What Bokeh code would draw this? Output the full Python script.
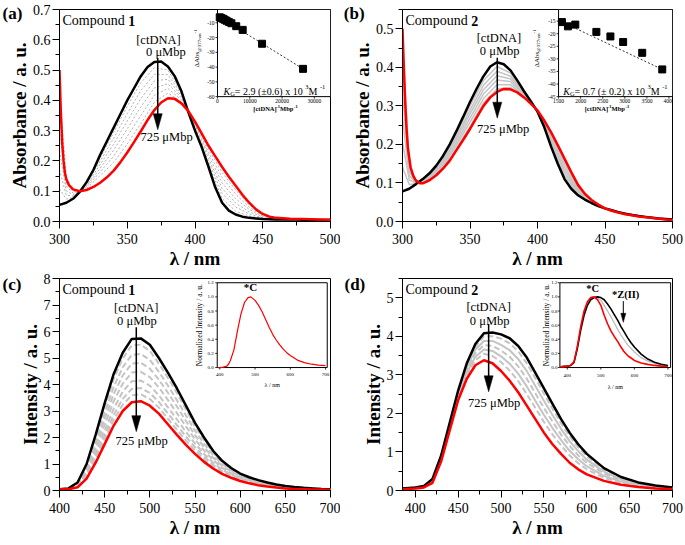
import math
from bokeh.plotting import figure
from bokeh.models import Range1d, FixedTicker, NumeralTickFormatter, Label
from bokeh.layouts import column, row
from bokeh.embed import file_html
from bokeh.resources import INLINE
from bokeh.core.properties import value

SERIF = "Liberation Serif"
RED = "#ff0000"

# ---------------- (a) Compound 1 : absorption ----------------
a_black_wl = [300, 305, 310, 315, 320, 325, 330, 335, 340, 345, 350, 355, 360, 365, 370, 375, 380, 385, 390, 395,
              400, 405, 410, 415, 420, 425, 430, 435, 440, 445, 450, 455, 460, 465, 470, 475, 480, 485, 490, 495, 500]
a_black = [0.055, 0.062, 0.075, 0.098, 0.130, 0.170, 0.220, 0.265, 0.310, 0.355, 0.400, 0.440, 0.480, 0.510, 0.527,
           0.528, 0.512, 0.480, 0.430, 0.362, 0.300, 0.245, 0.180, 0.112, 0.062, 0.036, 0.023, 0.016, 0.012, 0.010,
           0.008, 0.0075, 0.007, 0.0068, 0.0065, 0.0063, 0.006, 0.0058, 0.0055, 0.0053, 0.005]
a_red_wl = [300, 301, 302, 303, 304, 305, 307, 310, 315, 320, 325, 330, 335, 340, 345, 350, 355, 360, 365, 370, 375,
            380, 385, 390, 395, 400, 405, 410, 415, 420, 425, 430, 435, 440, 445, 450, 455, 460, 470, 480, 490, 500]
a_red = [0.50, 0.36, 0.26, 0.20, 0.16, 0.14, 0.12, 0.106, 0.100, 0.104, 0.114, 0.128, 0.146, 0.168, 0.196, 0.228, 0.262,
         0.298, 0.335, 0.368, 0.393, 0.407, 0.405, 0.39, 0.365, 0.33, 0.29, 0.25, 0.215, 0.18, 0.148, 0.118, 0.088,
         0.062, 0.04, 0.025, 0.016, 0.012, 0.009, 0.008, 0.007, 0.006]
a_gray_wl = [300, 305, 310, 315, 320, 330, 340, 350, 360, 370, 380, 390, 400, 410, 420, 430, 440, 450, 460, 480, 500]
a_gray_1 = [0.108, 0.074, 0.079, 0.098, 0.127, 0.210, 0.294, 0.380, 0.458, 0.508, 0.500, 0.425, 0.304, 0.188, 0.076, 0.034, 0.018, 0.010, 0.008, 0.006, 0.005]
a_gray_2 = [0.171, 0.087, 0.084, 0.099, 0.124, 0.199, 0.275, 0.356, 0.432, 0.486, 0.485, 0.420, 0.308, 0.198, 0.093, 0.048, 0.025, 0.012, 0.008, 0.0065, 0.005]
a_gray_3 = [0.233, 0.101, 0.089, 0.099, 0.120, 0.188, 0.256, 0.332, 0.406, 0.464, 0.470, 0.414, 0.312, 0.208, 0.109, 0.061, 0.032, 0.015, 0.009, 0.007, 0.0054]
a_gray_4 = [0.300, 0.116, 0.094, 0.099, 0.116, 0.176, 0.236, 0.306, 0.378, 0.441, 0.455, 0.408, 0.317, 0.219, 0.127, 0.075, 0.040, 0.017, 0.010, 0.007, 0.0055]
a_gray_5 = [0.367, 0.131, 0.100, 0.099, 0.113, 0.164, 0.216, 0.281, 0.350, 0.417, 0.439, 0.402, 0.321, 0.229, 0.145, 0.090, 0.047, 0.020, 0.011, 0.0074, 0.0057]
a_gray_6 = [0.433, 0.145, 0.105, 0.100, 0.109, 0.152, 0.195, 0.256, 0.323, 0.394, 0.424, 0.396, 0.326, 0.240, 0.162, 0.104, 0.055, 0.023, 0.011, 0.0077, 0.0059]
a_grays = [a_gray_1, a_gray_2, a_gray_3, a_gray_4, a_gray_5, a_gray_6]
a_xticks = [300, 350, 400, 450, 500]
a_xminor = [325, 375, 425, 475]
a_yticks = [0.0, 0.1, 0.2, 0.3, 0.4, 0.5, 0.6, 0.7]
a_yminor = [0.05, 0.15, 0.25, 0.35, 0.45, 0.55, 0.65]

# inset (a): 1/ΔAbs vs 1/[ctDNA]
ia_x = [700, 1200, 1700, 2200, 2800, 3500, 4300, 5800, 7800, 13800, 26500]
ia_y = [-6.3, -6.8, -7.3, -7.9, -8.6, -9.4, -10.3, -12.3, -14.8, -24.2, -41.2]
ia_fit_x = [500, 26500]
ia_fit_y = [-6.0, -41.2]
ia_xticks = [0, 10000, 20000, 30000]
ia_yticks = [-60, -50, -40, -30, -20, -10]

# ---------------- (b) Compound 2 : absorption ----------------
b_black_wl = [300, 305, 310, 315, 320, 325, 330, 335, 340, 345, 350, 355, 360, 365, 370, 375, 380, 385, 390, 395,
              400, 405, 410, 415, 420, 425, 430, 435, 440, 445, 450, 455, 460, 465, 470, 475, 480, 485, 490, 495, 500]
b_black = [0.078, 0.085, 0.097, 0.11, 0.125, 0.145, 0.17, 0.2, 0.235, 0.272, 0.31, 0.345, 0.377, 0.402, 0.413, 0.408,
           0.392, 0.366, 0.338, 0.312, 0.285, 0.245, 0.195, 0.15, 0.11, 0.085, 0.068, 0.057, 0.048, 0.04, 0.034,
           0.029, 0.024, 0.02, 0.017, 0.014, 0.012, 0.01, 0.008, 0.0065, 0.005]
b_red_wl = [300, 301, 302, 303, 304, 306, 308, 310, 313, 315, 320, 325, 330, 335, 340, 345, 350, 355, 360, 365, 370,
            375, 380, 385, 390, 395, 400, 405, 410, 415, 420, 425, 430, 435, 440, 445, 450, 455, 460, 465, 470, 475,
            480, 485, 490, 495, 500]
b_red = [0.50, 0.40, 0.31, 0.24, 0.19, 0.14, 0.118, 0.106, 0.099, 0.099, 0.107, 0.12, 0.137, 0.158, 0.185, 0.212,
         0.24, 0.27, 0.30, 0.322, 0.336, 0.344, 0.343, 0.335, 0.322, 0.306, 0.288, 0.262, 0.232, 0.198, 0.163, 0.128,
         0.095, 0.072, 0.056, 0.044, 0.034, 0.028, 0.023, 0.019, 0.016, 0.013, 0.011, 0.009, 0.007, 0.0055, 0.004]
b_gray_wl = [300, 305, 310, 315, 320, 330, 340, 350, 360, 370, 380, 390, 400, 410, 420, 430, 440, 450, 460, 480, 500]
b_gray_1 = [0.141, 0.096, 0.098, 0.108, 0.122, 0.165, 0.228, 0.300, 0.366, 0.402, 0.385, 0.333, 0.285, 0.201, 0.118, 0.072, 0.049, 0.034, 0.024, 0.012, 0.005]
b_gray_2 = [0.205, 0.108, 0.100, 0.107, 0.120, 0.160, 0.220, 0.289, 0.354, 0.390, 0.377, 0.331, 0.286, 0.206, 0.126, 0.076, 0.050, 0.034, 0.024, 0.012, 0.005]
b_gray_3 = [0.268, 0.119, 0.101, 0.105, 0.117, 0.155, 0.213, 0.279, 0.342, 0.378, 0.370, 0.329, 0.286, 0.212, 0.134, 0.080, 0.052, 0.034, 0.024, 0.012, 0.005]
b_gray_4 = [0.331, 0.130, 0.102, 0.103, 0.114, 0.150, 0.205, 0.268, 0.331, 0.367, 0.363, 0.327, 0.287, 0.217, 0.142, 0.084, 0.053, 0.034, 0.023, 0.011, 0.0045]
b_gray_5 = [0.395, 0.141, 0.104, 0.102, 0.112, 0.145, 0.198, 0.258, 0.319, 0.355, 0.355, 0.325, 0.287, 0.223, 0.150, 0.088, 0.054, 0.034, 0.023, 0.011, 0.0043]
b_gray_6 = [0.458, 0.153, 0.105, 0.100, 0.109, 0.140, 0.190, 0.247, 0.308, 0.344, 0.348, 0.323, 0.288, 0.228, 0.158, 0.092, 0.055, 0.034, 0.023, 0.011, 0.0041]
b_grays = [b_gray_1, b_gray_2, b_gray_3, b_gray_4, b_gray_5, b_gray_6]
b_yticks = [0.0, 0.1, 0.2, 0.3, 0.4, 0.5]
b_yminor = [0.05, 0.15, 0.25, 0.35, 0.45, 0.55]

ib_x = [1576, 1712, 1879, 2356, 2674, 2962, 3394, 3848]
ib_y = [-15.4, -17.1, -16.4, -19.3, -21.1, -23.3, -27.6, -34.2]
ib_fit_x = [1560, 3850]
ib_fit_y = [-15.2, -34.2]
ib_xticks = [1500, 2000, 2500, 3000, 3500, 4000]
ib_yticks = [-45, -40, -35, -30, -25, -20, -15]

# ---------------- (c) Compound 1 : emission ----------------
c_wl = [400, 410, 420, 430, 440, 450, 460, 470, 480, 490, 500, 510, 520, 530, 540, 550, 560, 570, 580, 590, 600,
        610, 620, 630, 640, 650, 660, 670, 680, 690, 700]
c_black = [0.05, 0.08, 0.3, 1.0, 2.1, 3.3, 4.4, 5.2, 5.72, 5.74, 5.5, 5.0, 4.45, 3.85, 3.2, 2.55, 2.0, 1.5, 1.12,
           0.85, 0.64, 0.5, 0.39, 0.3, 0.23, 0.17, 0.13, 0.1, 0.08, 0.06, 0.05]
c_red = [0.05, 0.05, 0.12, 0.45, 1.05, 1.75, 2.45, 3.0, 3.33, 3.37, 3.2, 2.9, 2.5, 2.1, 1.72, 1.38, 1.08, 0.83, 0.63,
         0.48, 0.36, 0.27, 0.2, 0.15, 0.11, 0.08, 0.06, 0.05, 0.04, 0.035, 0.03]
c_gray_wl = [400, 410, 420, 430, 440, 450, 460, 470, 480, 490, 500, 510, 520, 530, 540, 550, 560, 570, 580, 590, 600,
             620, 640, 660, 680, 700]
c_gray_1 = [0.05, 0.08, 0.28, 0.95, 2.0, 3.15, 4.21, 4.98, 5.48, 5.50, 5.27, 4.79, 4.25, 3.68, 3.05, 2.43, 1.91, 1.43, 1.07, 0.81, 0.61, 0.37, 0.22, 0.12, 0.08, 0.05]
c_gray_2 = [0.05, 0.07, 0.26, 0.86, 1.84, 2.91, 3.91, 4.65, 5.12, 5.15, 4.93, 4.48, 3.96, 3.41, 2.83, 2.26, 1.77, 1.33, 1.00, 0.76, 0.57, 0.34, 0.20, 0.11, 0.07, 0.05]
c_gray_3 = [0.05, 0.07, 0.23, 0.79, 1.69, 2.70, 3.64, 4.34, 4.79, 4.82, 4.60, 4.18, 3.69, 3.17, 2.62, 2.09, 1.64, 1.24, 0.93, 0.71, 0.53, 0.32, 0.18, 0.10, 0.06, 0.04]
c_gray_4 = [0.05, 0.06, 0.21, 0.71, 1.54, 2.48, 3.37, 4.03, 4.45, 4.48, 4.28, 3.89, 3.42, 2.92, 2.42, 1.93, 1.51, 1.15, 0.86, 0.65, 0.49, 0.29, 0.17, 0.09, 0.06, 0.04]
c_gray_5 = [0.05, 0.06, 0.18, 0.63, 1.40, 2.26, 3.09, 3.73, 4.12, 4.15, 3.96, 3.59, 3.14, 2.68, 2.21, 1.77, 1.38, 1.05, 0.79, 0.60, 0.45, 0.26, 0.15, 0.08, 0.05, 0.04]
c_gray_6 = [0.05, 0.06, 0.16, 0.57, 1.27, 2.08, 2.86, 3.46, 3.83, 3.87, 3.68, 3.34, 2.91, 2.47, 2.03, 1.63, 1.27, 0.97, 0.73, 0.56, 0.42, 0.24, 0.14, 0.08, 0.05, 0.03]
c_gray_7 = [0.05, 0.05, 0.14, 0.51, 1.17, 1.92, 2.67, 3.24, 3.59, 3.63, 3.45, 3.13, 2.71, 2.29, 1.88, 1.51, 1.18, 0.90, 0.68, 0.52, 0.39, 0.22, 0.12, 0.07, 0.04, 0.03]
c_grays = [c_gray_1, c_gray_2, c_gray_3, c_gray_4, c_gray_5, c_gray_6, c_gray_7]
c_xticks = [400, 450, 500, 550, 600, 650, 700]
c_xminor = [425, 475, 525, 575, 625, 675]
c_yticks = [0, 1, 2, 3, 4, 5, 6, 7, 8]
c_yminor = [0.5, 1.5, 2.5, 3.5, 4.5, 5.5, 6.5, 7.5]

ic_wl = [395, 400, 410, 420, 425, 430, 440, 450, 460, 470, 480, 488, 500, 510, 520, 530, 540, 550, 560, 570, 580,
         590, 600, 620, 640, 660, 680, 700]
ic_red = [0.0, 0.0, 0.005, 0.02, 0.05, 0.1, 0.25, 0.52, 0.76, 0.92, 0.99, 1.0, 0.95, 0.88, 0.79, 0.68, 0.57, 0.47,
          0.39, 0.32, 0.26, 0.21, 0.17, 0.105, 0.07, 0.047, 0.035, 0.027]
ic_xticks = [400, 500, 600, 700]
ic_yticks = [0.0, 0.2, 0.4, 0.6, 0.8, 1.0, 1.2]

# ---------------- (d) Compound 2 : emission ----------------
d_wl = [385, 400, 410, 420, 430, 440, 450, 460, 470, 480, 490, 500, 510, 520, 530, 540, 550, 560, 570, 580, 590, 600,
        620, 640, 660, 680, 700]
d_black = [0.05, 0.08, 0.12, 0.3, 0.9, 1.75, 2.6, 3.3, 3.8, 4.08, 4.1, 4.05, 3.95, 3.75, 3.45, 3.05, 2.65, 2.25, 1.85,
           1.5, 1.2, 0.95, 0.58, 0.35, 0.21, 0.13, 0.08]
d_red = [0.03, 0.05, 0.08, 0.2, 0.75, 1.55, 2.35, 2.9, 3.25, 3.38, 3.3, 3.1, 2.85, 2.55, 2.2, 1.85, 1.5, 1.2, 0.95,
         0.72, 0.55, 0.42, 0.25, 0.15, 0.09, 0.05, 0.03]
d_gray_1 = [0.05, 0.08, 0.12, 0.29, 0.88, 1.73, 2.57, 3.25, 3.73, 4.00, 4.00, 3.94, 3.82, 3.61, 3.30, 2.91, 2.51, 2.12, 1.74, 1.41, 1.12, 0.89, 0.54, 0.33, 0.20, 0.12, 0.07]
d_gray_2 = [0.04, 0.07, 0.11, 0.27, 0.86, 1.69, 2.53, 3.19, 3.65, 3.88, 3.88, 3.78, 3.64, 3.41, 3.10, 2.71, 2.33, 1.96, 1.60, 1.28, 1.02, 0.80, 0.49, 0.29, 0.18, 0.11, 0.07]
d_gray_3 = [0.04, 0.07, 0.10, 0.26, 0.83, 1.66, 2.49, 3.12, 3.56, 3.77, 3.75, 3.63, 3.47, 3.22, 2.90, 2.52, 2.14, 1.79, 1.45, 1.16, 0.91, 0.72, 0.44, 0.26, 0.16, 0.10, 0.06]
d_gray_4 = [0.04, 0.06, 0.10, 0.24, 0.81, 1.63, 2.45, 3.06, 3.47, 3.66, 3.62, 3.48, 3.29, 3.03, 2.70, 2.33, 1.96, 1.62, 1.31, 1.03, 0.81, 0.63, 0.38, 0.23, 0.14, 0.08, 0.05]
d_gray_5 = [0.04, 0.06, 0.09, 0.22, 0.79, 1.60, 2.41, 3.00, 3.38, 3.55, 3.49, 3.33, 3.11, 2.84, 2.50, 2.14, 1.78, 1.45, 1.17, 0.91, 0.71, 0.55, 0.33, 0.20, 0.12, 0.07, 0.04]
d_grays = [d_gray_1, d_gray_2, d_gray_3, d_gray_4, d_gray_5]
d_yticks = [0, 1, 2, 3, 4, 5]
d_yminor = [0.5, 1.5, 2.5, 3.5, 4.5, 5.5]

id_wl = [380, 400, 410, 420, 430, 440, 450, 460, 470, 480, 490, 500, 510, 520, 530, 540, 550, 560, 570, 580, 590, 600,
         620, 640, 660, 680, 700]
id_red = [0.01, 0.02, 0.03, 0.08, 0.3, 0.58, 0.8, 0.93, 0.99, 1.0, 0.96, 0.88, 0.74, 0.62, 0.52, 0.44, 0.37, 0.29,
          0.22, 0.17, 0.135, 0.10, 0.065, 0.045, 0.03, 0.02, 0.015]
id_black = [0.01, 0.02, 0.03, 0.07, 0.27, 0.53, 0.74, 0.88, 0.96, 0.99, 1.0, 0.99, 0.96, 0.9, 0.83, 0.75, 0.67, 0.58,
            0.5, 0.42, 0.35, 0.29, 0.19, 0.12, 0.075, 0.045, 0.03]
id_gray = [0.01, 0.02, 0.03, 0.075, 0.28, 0.55, 0.77, 0.9, 0.97, 1.0, 0.99, 0.95, 0.88, 0.8, 0.72, 0.63, 0.54, 0.46,
           0.39, 0.32, 0.27, 0.22, 0.14, 0.09, 0.06, 0.038, 0.025]
id_xticks = [400, 500, 600, 700]
id_yticks = [0.0, 0.2, 0.4, 0.6, 0.8, 1.0, 1.2]

# ---------------- helpers ----------------
CW = {' ': .25, '.': .25, '(': .333, ')': .333, '[': .333, ']': .333, '=': .564, '±': .564, '-': .333,
      'x': .5, 'M': .889, 'K': .667, 'G': .722, 'C': .667, 'o': .5, 'm': .778, 'p': .5, 'u': .5, 'n': .5,
      'd': .5, 'Δ': .612, 'A': .722, 'b': .5, 's': .389, '@': .921, 'D': .722, 'N': .722, 'c': .444,
      't': .278, 'μ': .576}


def tw(s, size):
    return size * sum(CW.get(ch, 0.5) for ch in s)


def label(p, x, y, text, size, style="normal", align="left", baseline="middle", angle=0.0, rn=None):
    kw = dict(x_range_name=rn, y_range_name=rn) if rn else {}
    p.add_layout(Label(x=x, y=y, text=text, text_font=SERIF, text_font_size=f"{size}px",
                       text_font_style=style, text_align=align, text_baseline=baseline,
                       angle=angle, text_color="black", **kw))


class Panel:
    def __init__(self, xr, yr, fw, fh, lb, rb, tb, ylabel, xt, xm, yt, ym, yfmt, letter, loff, lstand):
        self.xr, self.yr, self.fw, self.fh = xr, yr, fw, fh
        p = figure(x_range=Range1d(*xr), y_range=Range1d(*yr), frame_width=fw, frame_height=fh,
                   min_border_left=lb, min_border_right=rb, min_border_top=tb, min_border_bottom=46,
                   output_backend="svg", toolbar_location=None,
                   background_fill_color="white", border_fill_color="white")
        p.grid.visible = False
        p.outline_line_color = "black"
        p.outline_line_width = 1
        p.outline_line_alpha = 1.0
        p.xaxis.ticker = FixedTicker(ticks=xt, minor_ticks=xm)
        p.yaxis.ticker = FixedTicker(ticks=yt, minor_ticks=ym)
        p.yaxis.formatter = NumeralTickFormatter(format=yfmt)
        p.xaxis.axis_label = "λ / nm"
        p.yaxis.axis_label = ylabel
        for ax in p.axis:
            ax.major_label_text_font = SERIF
            ax.major_label_text_font_size = "14px"
            ax.major_label_text_color = "black"
            ax.axis_label_text_font = SERIF
            ax.axis_label_text_font_size = "19px"
            ax.axis_label_text_font_style = "bold"
            ax.axis_label_text_color = "black"
            ax.major_tick_in = 0
            ax.major_tick_out = 7
            ax.minor_tick_in = 0
            ax.minor_tick_out = 4
            ax.axis_line_color = "black"
            ax.major_tick_line_color = "black"
            ax.minor_tick_line_color = "black"
        p.yaxis.major_label_standoff = 2
        p.yaxis.axis_label_standoff = 0
        p.xaxis.major_label_standoff = 5
        p.xaxis.axis_label_standoff = 1
        # panel letter as the plot title, pulled down into the top-left corner
        p.title.text = letter
        p.title.align = "left"
        p.title.vertical_align = "bottom"
        p.title.offset = loff
        p.title.standoff = lstand
        p.title.text_font = SERIF
        p.title.text_font_size = "17px"
        p.title.text_font_style = "bold"
        p.title.text_color = "black"
        self.p = p
        self.ux = (xr[1] - xr[0]) / fw
        self.uy = (yr[1] - yr[0]) / fh

    def X(self, px):
        return self.xr[0] + px * self.ux

    def Y(self, py):
        return self.yr[1] - py * self.uy


class Inset:
    def __init__(self, P, name, fx, fy, xr, yr):
        self.p, self.name, self.xr, self.yr = P.p, name, xr, yr
        sx = (xr[1] - xr[0]) / (fx[1] - fx[0])
        x0 = xr[0] - fx[0] * sx
        bf, tf = 1 - fy[1], 1 - fy[0]
        sy = (yr[1] - yr[0]) / (tf - bf)
        y0 = yr[0] - bf * sy
        P.p.extra_x_ranges = {name: Range1d(x0, x0 + sx)}
        P.p.extra_y_ranges = {name: Range1d(y0, y0 + sy)}
        self.ux = sx / P.fw
        self.uy = sy / P.fh
        self.w = (fx[1] - fx[0]) * P.fw
        self.h = (tf - bf) * P.fh
        self.kw = dict(x_range_name=name, y_range_name=name)

    def X(self, px):
        return self.xr[0] + px * self.ux

    def Y(self, py):
        return self.yr[1] - py * self.uy

    def frame(self):
        self.p.quad(left=[self.xr[0]], right=[self.xr[1]], bottom=[self.yr[0]], top=[self.yr[1]],
                    fill_color="white", line_color="black", line_width=1, **self.kw)

    def axes(self, xt, xtl, yt, ytl, size, xgap, ygap):
        p, kw = self.p, self.kw
        n, m = len(xt), len(yt)
        p.segment(x0=xt, x1=xt, y0=[self.yr[0]] * n, y1=[self.yr[0] - 2 * self.uy] * n,
                  line_color="black", line_width=0.8, **kw)
        p.segment(x0=[self.xr[0]] * m, x1=[self.xr[0] - 2 * self.ux] * m, y0=yt, y1=yt,
                  line_color="black", line_width=0.8, **kw)
        p.text(x=xt, y=[self.yr[0] - xgap * self.uy] * n, text=xtl, text_align="center",
               text_baseline="top", text_font=value(SERIF), text_font_size=f"{size}px",
               text_color="black", **kw)
        p.text(x=[self.xr[0] - ygap * self.ux] * m, y=yt, text=ytl, text_align="right",
               text_baseline="middle", text_font=value(SERIF), text_font_size=f"{size}px",
               text_color="black", **kw)

    def rich(self, px, py, pieces):
        cur = 0.0
        for t, s, st, up in pieces:
            label(self.p, self.X(px + cur), self.Y(py - up), t, s, style=st, baseline="alphabetic", rn=self.name)
            cur += tw(t, s)

    def rich_center(self, pcx, py, pieces):
        total = sum(tw(t, s) for t, s, st, up in pieces)
        self.rich(pcx - total / 2, py, pieces)

    def vlabel(self, cx, pybot, pieces):
        # rotated (reading upwards) label made of pieces; each piece centred on its own slot
        cur = pybot
        for t, s, st, shift in pieces:
            L = tw(t, s)
            label(self.p, self.X(cx + shift), self.Y(cur - L / 2), t, s, style=st, align="center",
                  baseline="middle", angle=math.pi / 2, rn=self.name)
            cur -= L


def arrow(p, x, y0, y1, ux, uy, L=16, hw=4.5, lw=1.5, kw=None):
    kw = kw or {}
    p.segment(x0=[x], y0=[y0], x1=[x], y1=[y1 + 0.5 * L * uy], line_color="black", line_width=lw, **kw)
    p.patch(x=[x, x - hw * ux, x + hw * ux], y=[y1, y1 + L * uy, y1 + L * uy], fill_color="black",
            line_color="black", line_width=0.5, **kw)


def spectra(P, gwl, grays, gstyle, bwl, bl, rwl, rd):
    for i, g in enumerate(grays):
        P.p.line(gwl, g, **gstyle(i))
    P.p.line(bwl, bl, line_color="black", line_width=2.5)
    P.p.line(rwl, rd, line_color=RED, line_width=2.5)


def compound(P, num):
    label(P.p, P.X(3), P.Y(11), "Compound ", 14)
    label(P.p, P.X(3 + tw("Compound ", 14)), P.Y(11), num, 14, style="bold")


def annot(P, xa, ya, xb, yb, xarr, ytop, ytip, xc, yc):
    label(P.p, xa, ya, "[ctDNA]", 12.5, align="center")
    label(P.p, xb, yb, "0 μMbp", 12.5, align="center")
    arrow(P.p, xarr, ytop, ytip, P.ux, P.uy)
    label(P.p, xc, yc, "725 μMbp", 12.5, align="center")


FH = 212
DABS = [("ΔAbs", 7, "normal", 0), ("@377nm", 5, "normal", 1.8), ("-1", 5, "normal", -2.2)]

# ---------------- panel (a) ----------------
A = Panel((300, 500), (0, 0.7), 271, FH, 59, 10, 9, "Absorbance / a. u.", a_xticks, a_xminor, a_yticks, a_yminor,
          "0.0", "(a)", -57, -27)
spectra(A, a_gray_wl, a_grays, lambda i: dict(line_color="#b0b0b0", line_width=1, line_dash="2 2"),
        a_black_wl, a_black, a_red_wl, a_red)
compound(A, "1")
annot(A, 373, 0.60, 378.5, 0.56, 372.5, 0.54, 0.303, 379, 0.28)
IA = Inset(A, "ia", (0.583, 1.0), (0.0, 0.411), (0, 35000), (-60, -1))
IA.frame()
A.p.line(ia_fit_x, ia_fit_y, line_color="black", line_width=0.8, line_dash="2 2", **IA.kw)
A.p.scatter(ia_x, ia_y, marker="square", size=7, fill_color="black", line_color="black", **IA.kw)
IA.axes(ia_xticks, [str(v) for v in ia_xticks], ia_yticks, [str(v) for v in ia_yticks], 5.5, 2.5, 3)
IA.rich(6, IA.h - 5.5, [("K", 10, "italic", 0), ("G", 6.5, "normal", -2), (" = 2.9 (±0.6) x 10", 10, "normal", 0),
                        ("3", 6.5, "normal", 4), (" M", 10, "normal", 0), ("-1", 6.5, "normal", 4)])
IA.rich_center(58, IA.h + 12, [("[ctDNA]", 6.5, "bold", 0), ("-1", 4.5, "bold", 2.5), (" Mbp", 6.5, "bold", 0),
                               ("-1", 4.5, "bold", 2.5)])
IA.vlabel(-20, 58, DABS)

# ---------------- panel (b) ----------------
B = Panel((300, 500), (0, 0.55), 270, FH, 62, 12, 9, "Absorbance / a. u.", a_xticks, a_xminor, b_yticks, b_yminor,
          "0.0", "(b)", -58.7, -27)
spectra(B, b_gray_wl, b_grays, lambda i: dict(line_color="#c4c4c4", line_width=1.5),
        b_black_wl, b_black, b_red_wl, b_red)
compound(B, "2")
annot(B, 371.4, 0.477, 372, 0.442, 370.2, 0.425, 0.268, 374.6, 0.24)
IB = Inset(B, "ib", (0.578, 1.0), (0.0, 0.411), (1500, 4080), (-45, -10.4))
IB.frame()
B.p.line(ib_fit_x, ib_fit_y, line_color="black", line_width=0.8, line_dash="2 2", **IB.kw)
B.p.scatter(ib_x, ib_y, marker="square", size=7, fill_color="black", line_color="black", **IB.kw)
IB.axes(ib_xticks, [str(v) for v in ib_xticks], ib_yticks, [str(v) for v in ib_yticks], 5.5, 2.5, 3)
IB.rich(4.7, IB.h - 5.5, [("K", 10, "italic", 0), ("G", 6.5, "normal", -2), (" = 0.7 (± 0.2) x 10", 10, "normal", 0),
                          ("3", 6.5, "normal", 4), (" M", 10, "normal", 0), ("-1", 6.5, "normal", 4)])
IB.rich_center(48.4, IB.h + 12, [("[ctDNA]", 6.5, "bold", 0), ("-1", 4.5, "bold", 2.5), (" Mbp", 6.5, "bold", 0),
                                 ("-1", 4.5, "bold", 2.5)])
IB.vlabel(-21.5, 58, DABS)

# ---------------- panel (c) ----------------
C = Panel((400, 700), (0, 8), 271, FH, 59, 10, 7, "Intensity / a. u.", c_xticks, c_xminor, c_yticks, c_yminor,
          "0", "(c)", -57, -30)
spectra(C, c_gray_wl, c_grays, lambda i: dict(line_color="#c4c4c4", line_width=2, line_dash="6 3"),
        c_wl, c_black, c_wl, c_red)
compound(C, "1")
annot(C, 485, 6.9, 485.7, 6.4, 485, 6.16, 2.22, 491, 1.85)
IC = Inset(C, "ic", (0.582, 0.988), (0.02, 0.42), (392.6, 704.8), (0, 1.2))
IC.frame()
C.p.line(ic_wl, ic_red, line_color=RED, line_width=1.2, **IC.kw)
IC.axes(ic_xticks, [str(v) for v in ic_xticks], ic_yticks, [f"{v:.1f}" for v in ic_yticks], 5, 5.5, 3.5)
label(C.p, IC.X(IC.w / 2), IC.Y(IC.h + 17.7), "λ / nm", 6, align="center", rn="ic")
label(C.p, IC.X(-17.7), IC.Y(IC.h / 2), "Normalized Intensity / a. u.", 7.5, align="center",
      angle=math.pi / 2, rn="ic")
label(C.p, 487, 1.135, "*C", 11, style="bold", align="center", rn="ic")

# ---------------- panel (d) ----------------
D = Panel((385, 700), (0, 5.5), 270, FH, 62, 12, 7, "Intensity / a. u.", c_xticks, c_xminor, d_yticks, d_yminor,
          "0", "(d)", -58, -30)
spectra(D, d_wl, d_grays,
        lambda i: dict(line_color="#c4c4c4", line_width=2, line_dash=("6 3" if i % 2 == 0 else "solid")),
        d_wl, d_black, d_wl, d_red)
compound(D, "2")
annot(D, 485.5, 4.75, 486.7, 4.41, 485.5, 4.32, 2.56, 492, 2.26)
ID = Inset(D, "id", (0.583, 0.993), (0.02, 0.42), (378, 708), (0, 1.2))
ID.frame()
D.p.line(id_wl, id_gray, line_color="#b8b8b8", line_width=1.2, **ID.kw)
D.p.line(id_wl, id_black, line_color="black", line_width=1.6, **ID.kw)
D.p.line(id_wl, id_red, line_color=RED, line_width=1.6, **ID.kw)
ID.axes(id_xticks, [str(v) for v in id_xticks], id_yticks, [f"{v:.1f}" for v in id_yticks], 5, 6, 2.5)
label(D.p, ID.X(ID.w / 2), ID.Y(ID.h + 19), "λ / nm", 6, align="center", rn="id")
label(D.p, ID.X(-13.8), ID.Y(ID.h / 2), "Normalized Intensity / a. u.", 7.5, align="center",
      angle=math.pi / 2, rn="id")
label(D.p, 475.5, 1.12, "*C", 10.5, style="bold", align="center", rn="id")
label(D.p, 573.9, 1.04, "*Z(II)", 10.5, style="bold", align="center", rn="id")
arrow(D.p, 567, 0.94, 0.64, ID.ux, ID.uy, L=9, hw=2.5, lw=1, kw=ID.kw)

layout = column(row(A.p, B.p), row(C.p, D.p))
open("out.html", "w").write(file_html(layout, INLINE))
